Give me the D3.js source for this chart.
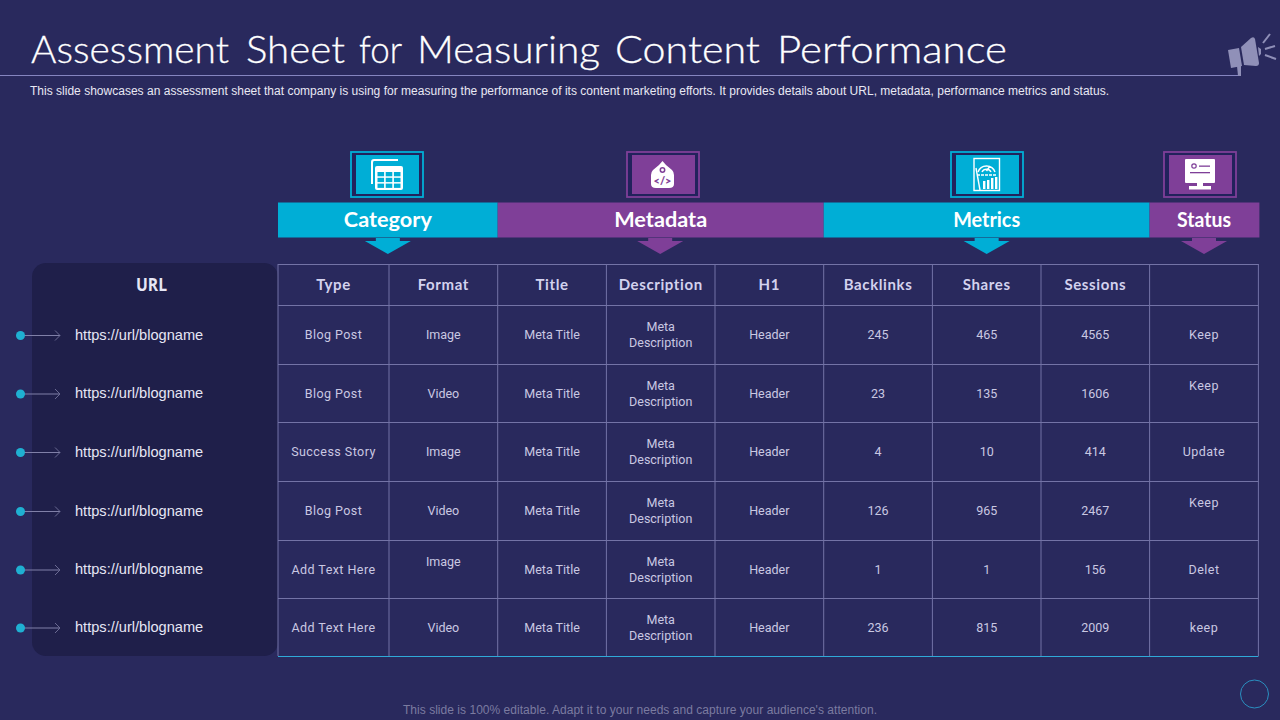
<!DOCTYPE html>
<html>
<head>
<meta charset="utf-8">
<script src="https://cdn.jsdelivr.net/npm/d3@7"></script>
<style>
  html, body { margin: 0; padding: 0; background: #29295d; }
  svg { display: block; }
  .head { font-family: Lato, sans-serif; font-weight: 700; fill: #d3d2ee; font-size: 15px; letter-spacing: 0.6px; text-anchor: middle; }
  .cell { font-family: Roboto, sans-serif; fill: #c9c8e2; font-size: 12.5px; text-anchor: middle; }
  .group { font-family: Lato, sans-serif; font-weight: 700; fill: #fff; font-size: 21px; }
  .url { font-family: "Liberation Sans", sans-serif; fill: #e6e6f5; font-size: 14.6px; }
</style>
</head>
<body>
<svg width="1280" height="720"></svg>
<script>
const titleWords = ['Assessment', 'Sheet', 'for', 'Measuring', 'Content', 'Performance'];
const subtitle = 'This slide showcases an assessment sheet that company is using for measuring the performance of its content marketing efforts. It provides details about URL, metadata, performance metrics and status.';
const footer = "This slide is 100% editable. Adapt it to your needs and capture your audience's attention.";

const columns = ['Type', 'Format', 'Title', 'Description', 'H1', 'Backlinks', 'Shares', 'Sessions', ''];
const urls = ['https://url/blogname', 'https://url/blogname', 'https://url/blogname', 'https://url/blogname', 'https://url/blogname', 'https://url/blogname'];
const types = ['Blog Post', 'Blog Post', 'Success Story', 'Blog Post', 'Add Text Here', 'Add Text Here'];
const formats = ['Image', 'Video', 'Image', 'Video', 'Image', 'Video'];
const backlinks = [245, 23, 4, 126, 1, 236];
const shares = [465, 135, 10, 965, 1, 815];
const sessions = [4565, 1606, 414, 2467, 156, 2009];
const statuses = ['Keep', 'Keep', 'Update', 'Keep', 'Delet', 'keep'];
const groups = [
  { name: 'Category', from: 0, to: 2, kind: 'a' },
  { name: 'Metadata', from: 2, to: 5, kind: 'b' },
  { name: 'Metrics', from: 5, to: 8, kind: 'a' },
  { name: 'Status', from: 8, to: 9, kind: 'b' }
];

const colEdges = [278, 389, 497.7, 606.4, 715, 823.7, 932.4, 1041, 1149.6, 1258.4];
const rowEdges = [264, 305, 364, 422, 481, 540, 598, 656];
const titleSpans = [[31, 229], [246, 345], [359, 402], [417, 600], [615, 760], [777, 1007]];
const groupWidths = [88, 93, 67, 54];
const cyan = '#00aed6', purple = '#7f3f98', gridCol = '#7373a6', boxGap = '#22225c';

const svg = d3.select('svg');
const x = d3.scaleLinear().domain(d3.range(10)).range(colEdges);
const y = d3.scaleLinear().domain(d3.range(8)).range(rowEdges);

// title block
svg.selectAll('text.title').data(titleWords).enter().append('text').attr('class', 'title')
   .attr('x', (d, i) => titleSpans[i][0]).attr('y', 62.5)
   .attr('font-family', 'Lato, sans-serif').attr('font-weight', 300).attr('font-size', 38)
   .attr('fill', '#fff').attr('stroke', '#fff').attr('stroke-width', 0.3)
   .attr('textLength', (d, i) => titleSpans[i][1] - titleSpans[i][0]).attr('lengthAdjust', 'spacingAndGlyphs')
   .text(d => d);
svg.append('line').attr('x1', 0).attr('x2', 1238).attr('y1', 75.5).attr('y2', 75.5)
   .attr('stroke', '#8585c0').attr('stroke-width', 1);
svg.append('text').attr('x', 30).attr('y', 94.5)
   .attr('font-family', '"Liberation Sans", sans-serif').attr('font-size', 12).attr('fill', '#e8e8f4')
   .attr('textLength', 1079).attr('lengthAdjust', 'spacing')
   .text(subtitle);

// megaphone
const mega = svg.append('g').attr('fill', '#9090b8');
mega.append('path').attr('d', 'M1228 50 L1239 48 L1242 66 L1231 68 Z');
mega.append('path').attr('d', 'M1241 47 L1251 38 Q1254 36 1255 39 L1259 63 Q1259 66 1256 66 L1244 65 Z');
mega.append('path').attr('d', 'M1258 47 L1261 49 L1261 54 L1259 56 Z');
mega.append('path').attr('d', 'M1237 66 L1241 66 L1241 76 L1238 76 Z');
mega.selectAll('line.ray').data([[1263, 43, 1270, 34], [1265, 49, 1275, 46], [1265, 55, 1276, 59]]).enter()
    .append('line').attr('x1', d => d[0]).attr('y1', d => d[1]).attr('x2', d => d[2]).attr('y2', d => d[3])
    .attr('stroke', '#9090b8').attr('stroke-width', 2);

// group header bars, arrows and icon boxes
const groupG = svg.selectAll('g.grp').data(groups).enter().append('g').attr('class', 'grp');
const mid = d => (x(d.from) + x(d.to)) / 2;
const fillOf = d => d.kind === 'a' ? cyan : purple;
const iconCx = d => d.name === 'Category' ? 387 : d.name === 'Metadata' ? 663 : d.name === 'Metrics' ? 987 : 1200;

groupG.append('rect').attr('x', d => x(d.from)).attr('y', 202.5)
      .attr('width', d => x(d.to) - x(d.from) + (d.name === 'Status' ? 1 : 0)).attr('height', 35).attr('fill', fillOf);
groupG.append('text').attr('class', 'group').attr('x', (d, i) => mid(d) - groupWidths[i] / 2).attr('y', 226.5)
      .attr('textLength', (d, i) => groupWidths[i]).attr('lengthAdjust', 'spacingAndGlyphs').text(d => d.name);
groupG.append('path')
      .attr('d', d => {
        const c = d.name === 'Status' ? 1204 : mid(d) + (d.name === 'Metadata' ? -0.5 : 0);
        return `M${c - 12} 238 H${c + 12} V241 H${c + 23} L${c} 254 L${c - 23} 241 H${c - 12} Z`;
      })
      .attr('fill', fillOf);
groupG.append('rect').attr('x', d => iconCx(d) - 36).attr('y', 152).attr('width', 72).attr('height', 45)
      .attr('fill', boxGap).attr('stroke', fillOf).attr('stroke-width', 1.8);
groupG.append('rect').attr('x', d => iconCx(d) - 31).attr('y', 155).attr('width', 63).attr('height', 39).attr('fill', fillOf);

// icons
const tableIcon = svg.append('g').attr('fill', '#fff');
tableIcon.append('path').attr('d', 'M371 184 V162 Q371 159 374 159 H398 V161 H374 Q373 161 373 163 V184 Z');
tableIcon.append('rect').attr('x', 375).attr('y', 166).attr('width', 28).attr('height', 24).attr('rx', 2);
d3.range(3).forEach(c => d3.range(3).forEach(r => {
  tableIcon.append('rect').attr('x', 377.5 + c * 8.2).attr('y', 172 + r * 5.8).attr('width', 6.6).attr('height', 4.3).attr('fill', cyan);
}));

svg.append('path').attr('fill', '#fff')
   .attr('d', 'M662.5 161 L666 165 L672 170 Q674 172 674 175 V184 Q674 188 669 188 H656 Q651 188 651 184 V175 Q651 172 653 170 L659 165 Z');
svg.append('circle').attr('cx', 662.5).attr('cy', 170).attr('r', 2.2).attr('fill', 'none').attr('stroke', purple).attr('stroke-width', 1.5);
svg.append('text').attr('x', 662.5).attr('y', 184.5).attr('text-anchor', 'middle')
   .attr('font-family', 'Lato, sans-serif').attr('font-weight', 900).attr('font-size', 11).attr('fill', purple).text('</>');

const gauge = svg.append('g').attr('fill', 'none').attr('stroke', '#fff').attr('stroke-width', 1.4);
gauge.append('rect').attr('x', 974).attr('y', 158.5).attr('width', 25.5).attr('height', 32);
gauge.append('path').attr('d', 'M978 172 A9 9 0 0 1 995 172 M982 172 A5 5 0 0 1 991 172 M986.5 171 L990 166');
gauge.append('path').attr('d', 'M976 168 L980 190');
[[983, 181], [987, 180], [991, 178], [995, 177]].forEach(b => {
  gauge.append('rect').attr('x', b[0]).attr('y', b[1]).attr('width', 2.4).attr('height', 189 - b[1]).attr('fill', '#fff').attr('stroke', 'none');
});
gauge.append('path').attr('d', 'M977 175 H997').attr('stroke-dasharray', '3 1');

const monitor = svg.append('g').attr('fill', '#fff');
monitor.append('rect').attr('x', 1185).attr('y', 159).attr('width', 30).attr('height', 24).attr('rx', 1);
monitor.append('rect').attr('x', 1197).attr('y', 183).attr('width', 6).attr('height', 3);
monitor.append('rect').attr('x', 1189).attr('y', 186).attr('width', 22).attr('height', 3.5);
monitor.append('circle').attr('cx', 1194).attr('cy', 166).attr('r', 2.2).attr('fill', 'none').attr('stroke', purple).attr('stroke-width', 1.2);
monitor.append('rect').attr('x', 1199).attr('y', 165.5).attr('width', 11).attr('height', 1.3).attr('fill', purple);
monitor.append('rect').attr('x', 1190).attr('y', 172).attr('width', 20).attr('height', 1.3).attr('fill', purple);

// URL panel
svg.append('rect').attr('x', 32).attr('y', 263).attr('width', 246).attr('height', 393).attr('rx', 14).attr('fill', '#1f1f4a');
svg.append('text').attr('x', 136).attr('y', 291)
   .attr('font-family', '"Open Sans", sans-serif').attr('font-weight', 700).attr('font-size', 18).attr('fill', '#e6e6f5')
   .attr('textLength', 31).attr('lengthAdjust', 'spacingAndGlyphs')
   .text('URL');

const urlG = svg.selectAll('g.urlrow').data(urls).enter().append('g').attr('class', 'urlrow')
                .attr('transform', (d, i) => `translate(0, ${(y(i + 1) + y(i + 2)) / 2})`);
urlG.append('line').attr('x1', 21).attr('x2', 60).attr('y1', 1).attr('y2', 1).attr('stroke', '#8080a8').attr('stroke-width', 1);
urlG.append('path').attr('d', 'M55 -4 L60 1 L55 6').attr('fill', 'none').attr('stroke', '#6a6a92').attr('stroke-width', 1);
urlG.append('circle').attr('cx', 20.5).attr('cy', 1).attr('r', 4.5).attr('fill', '#1fb0d2');
urlG.append('text').attr('class', 'url').attr('x', 75).attr('y', 5).text(d => d);

// table grid
const grid = svg.append('g').attr('stroke', gridCol).attr('stroke-width', 1);
grid.selectAll('line.v').data(colEdges).enter().append('line').attr('class', 'v')
    .attr('x1', d => d).attr('x2', d => d).attr('y1', y(0)).attr('y2', y(7));
grid.selectAll('line.h').data(rowEdges.slice(0, -1)).enter().append('line').attr('class', 'h')
    .attr('x1', x(0)).attr('x2', x(9)).attr('y1', d => d + 0.5).attr('y2', d => d + 0.5);
svg.append('line').attr('x1', x(0)).attr('x2', x(9)).attr('y1', y(7) + 0.5).attr('y2', y(7) + 0.5)
   .attr('stroke', '#2fa9d8').attr('stroke-width', 1);

// header row
svg.selectAll('text.head').data(columns).enter().append('text').attr('class', 'head')
   .attr('x', (d, i) => (x(i) + x(i + 1)) / 2).attr('y', 290).text(d => d);

// body cells
const raised = ['1-8', '3-8', '4-1'];
const rows = urls.map((u, i) => [types[i], formats[i], 'Meta Title', null, 'Header', backlinks[i], shares[i], sessions[i], statuses[i]]);
rows.forEach((row, r) => {
  const cy = (y(r + 1) + y(r + 2)) / 2;
  row.forEach((val, c) => {
    const cx = (x(c) + x(c + 1)) / 2;
    if (val === null) {
      svg.append('text').attr('class', 'cell').attr('x', cx).attr('y', cy - 3.3).text('Meta');
      svg.append('text').attr('class', 'cell').attr('x', cx).attr('y', cy + 12.7).text('Description');
    } else {
      const shift = raised.includes(r + '-' + c) ? -8 : 0;
      svg.append('text').attr('class', 'cell').attr('x', cx).attr('y', cy + 4.7 + shift)
         .style('letter-spacing', c === 0 || c === 8 ? '0.45px' : null).text(val);
    }
  });
});

// footer
svg.append('text').attr('x', 403).attr('y', 714)
   .attr('font-family', '"Liberation Sans", sans-serif').attr('font-size', 12).attr('fill', '#7b7ba0')
   .attr('textLength', 474).attr('lengthAdjust', 'spacing')
   .text(footer);
svg.append('circle').attr('cx', 1254.5).attr('cy', 694).attr('r', 14).attr('fill', 'none').attr('stroke', '#2a8fc0').attr('stroke-width', 1);
</script>
</body>
</html>
